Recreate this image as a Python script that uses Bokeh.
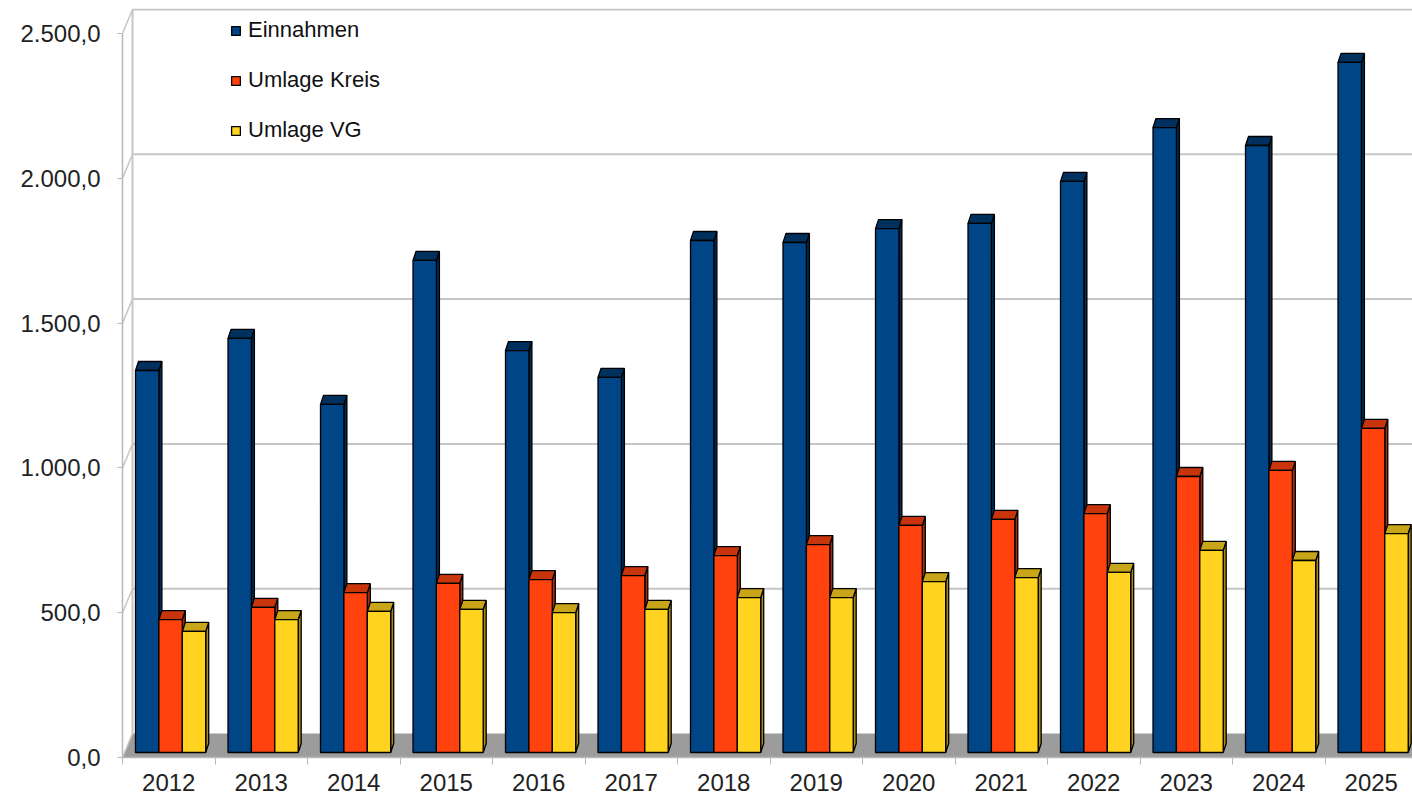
from bokeh.plotting import figure
from bokeh.models import FixedTicker, Legend, LegendItem
from bokeh.embed import file_html
from bokeh.resources import INLINE

# ---- data ----
years = ["2012", "2013", "2014", "2015", "2016", "2017", "2018",
         "2019", "2020", "2021", "2022", "2023", "2024", "2025"]
einnahmen = [1319, 1430, 1202, 1699, 1388, 1295, 1768, 1761, 1809, 1827, 1972, 2158, 2096, 2383]
umlage_kreis = [459, 501, 552, 584, 597, 611, 680, 718, 784, 805, 825, 953, 974, 1119]
umlage_vg = [418, 459, 487, 494, 483, 494, 535, 535, 590, 604, 622, 698, 663, 756]
series_names = ["Einnahmen", "Umlage Kreis", "Umlage VG"]
y_ticks = [0, 500, 1000, 1500, 2000, 2500]

# ---- styles / geometry ----
front_colors = ["#004586", "#ff420e", "#ffd320"]
top_colors = ["#00305e", "#c8340b", "#c9a51a"]
side_colors = ["#002a52", "#a82b08", "#a88a14"]

PX_X = 92.5            # pixels per category
UNITS_PER_PX = 2500 / 724.0
W, H = 1412, 801
LEFT, TOP, BOTTOM = 122, 8, 44
frame_h = H - TOP - BOTTOM
x_end = (W - LEFT) / PX_X
y_end = frame_h * UNITS_PER_PX

back_dx = 10 / PX_X
back_dy = 24 * UNITS_PER_PX
bar_base = 5 * UNITS_PER_PX
top_dx = 3 / PX_X
top_dy = 9 * UNITS_PER_PX
bar_w = 23.4 / PX_X
bar_start = 13 / PX_X

p = figure(width=W, height=H, output_backend="svg", toolbar_location=None,
           x_range=(0, x_end), y_range=(0, y_end),
           min_border_left=LEFT, min_border_right=0, min_border_top=TOP,
           min_border_bottom=BOTTOM)
p.outline_line_color = None
p.xgrid.visible = False
p.ygrid.visible = False
p.background_fill_color = "white"

grid_col = "#c6c6c6"
# floor
p.patch([0, x_end + 1, x_end + 1 + back_dx, back_dx],
        [0, 0, back_dy, back_dy], fill_color="#9c9c9c", line_color=None)
# back wall grid lines and left wall diagonals
for v in y_ticks:
    if v > 0:
        p.line([back_dx, x_end + 1], [v + back_dy, v + back_dy], line_color=grid_col, line_width=2)
    p.line([0, back_dx], [v, v + back_dy], line_color=grid_col, line_width=1.5)
p.line([back_dx, back_dx], [back_dy, y_ticks[-1] + back_dy], line_color=grid_col, line_width=2)

# bars
series = [einnahmen, umlage_kreis, umlage_vg]
legend_items = []
for s, vals in enumerate(series):
    lefts = [i + bar_start + s * bar_w for i in range(len(years))]
    rights = [l + bar_w for l in lefts]
    bottoms = [bar_base] * len(vals)
    tops = [bar_base + v for v in vals]
    side_xs = [[r, r + top_dx, r + top_dx, r] for r in rights]
    side_ys = [[b, b + top_dy, t + top_dy, t] for b, t in zip(bottoms, tops)]
    p.patches(side_xs, side_ys, fill_color=side_colors[s], line_color="black", line_width=1.3)
    top_xs = [[l, r, r + top_dx, l + top_dx] for l, r in zip(lefts, rights)]
    top_ys = [[t, t, t + top_dy, t + top_dy] for t in tops]
    p.patches(top_xs, top_ys, fill_color=top_colors[s], line_color="black", line_width=1.3)
    r = p.quad(left=lefts, right=rights, bottom=bottoms, top=tops,
               fill_color=front_colors[s], line_color="black", line_width=1.3)
    legend_items.append(LegendItem(label=series_names[s], renderers=[r]))

legend = Legend(items=legend_items, location=(108, frame_h - 135),
                padding=0, margin=0, spacing=24,
                glyph_width=11, glyph_height=11, label_height=21,
                label_standoff=7,
                label_text_font="Liberation Sans", label_text_font_size="22px",
                label_text_color="#111111",
                background_fill_alpha=0, border_line_alpha=0)
p.add_layout(legend, "center")

# y axis
p.yaxis.ticker = FixedTicker(ticks=y_ticks)
p.yaxis.major_label_overrides = {
    v: f"{v:,.1f}".replace(",", "X").replace(".", ",").replace("X", ".") for v in y_ticks}
p.yaxis.bounds = (0, y_ticks[-1])
p.yaxis.axis_line_color = "#b8b8b8"
p.yaxis.axis_line_width = 1.5
p.yaxis.major_tick_line_color = "#b8b8b8"
p.yaxis.major_tick_out = 5
p.yaxis.major_tick_in = 0
p.yaxis.minor_tick_line_color = None
p.yaxis.major_label_standoff = 17
p.yaxis.major_label_text_font = "Liberation Sans"
p.yaxis.major_label_text_font_size = "24px"
p.yaxis.major_label_text_color = "#222222"

# x axis
centers = [i + 0.5 for i in range(len(years))]
p.xaxis.ticker = FixedTicker(ticks=centers, minor_ticks=list(range(len(years) + 1)))
p.xaxis.major_label_overrides = {c: y for c, y in zip(centers, years)}
p.xaxis.axis_line_color = "#b8b8b8"
p.xaxis.axis_line_width = 1.5
p.xaxis.major_tick_line_color = None
p.xaxis.minor_tick_line_color = "#b8b8b8"
p.xaxis.minor_tick_out = 7
p.xaxis.minor_tick_in = 0
p.xaxis.major_label_standoff = 9
p.xaxis.major_label_text_font = "Liberation Sans"
p.xaxis.major_label_text_font_size = "24px"
p.xaxis.major_label_text_color = "#222222"

open("out.html", "w").write(file_html(p, INLINE))
